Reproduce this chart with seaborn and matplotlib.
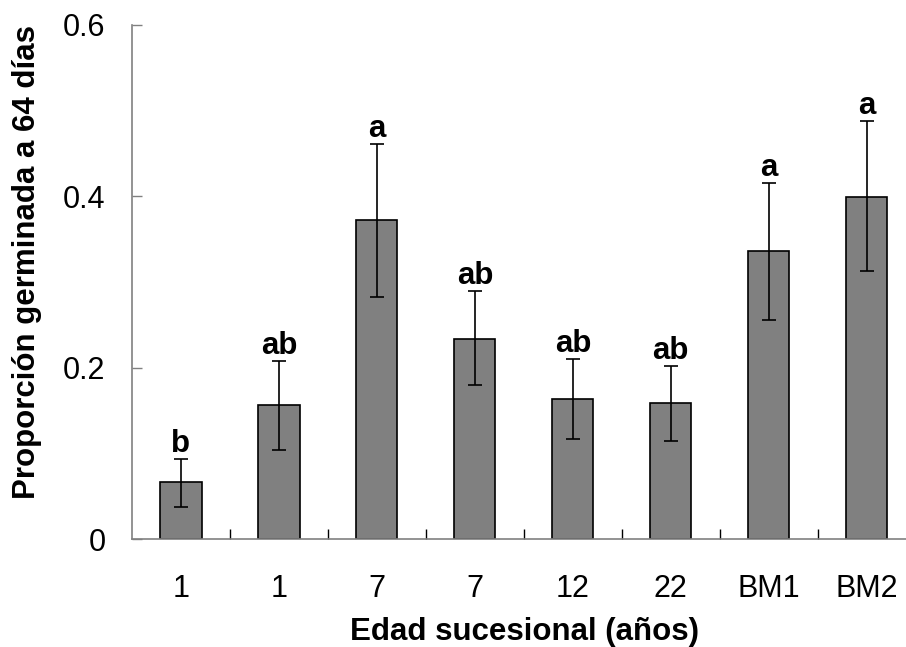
import matplotlib
matplotlib.use("Agg")
import matplotlib.pyplot as plt
import seaborn as sns
import pandas as pd
import numpy as np

# Data
categories = ["1", "1", "7", "7", "12", "22", "BM1", "BM2"]
values = [0.067, 0.156, 0.372, 0.234, 0.164, 0.159, 0.336, 0.399]
err_high = [0.094, 0.208, 0.461, 0.289, 0.210, 0.202, 0.415, 0.488]
err_low = [0.038, 0.104, 0.282, 0.180, 0.117, 0.115, 0.256, 0.313]
letters = ["b", "ab", "a", "ab", "ab", "ab", "a", "a"]
yticks = [0, 0.2, 0.4, 0.6]
ytick_labels = ["0", "0.2", "0.4", "0.6"]

sns.set_style("white")
plt.rcParams['font.family'] = ['Liberation Sans', 'DejaVu Sans']
plt.rcParams['text.color'] = 'black'
plt.rcParams['axes.labelcolor'] = 'black'
plt.rcParams['xtick.color'] = 'black'
plt.rcParams['ytick.color'] = 'black'

ids = [f"c{i}" for i in range(len(categories))]
df = pd.DataFrame({"id": ids, "value": values})

fig = plt.figure(figsize=(9.06, 6.47), dpi=100)
ax = fig.add_axes([132 / 906, (647 - 539.3) / 647, (915.7 - 132) / 906, (539.3 - 24.5) / 647])

sns.barplot(data=df, x="id", y="value", order=ids, color="#808080",
            width=0.42, edgecolor="black", linewidth=1.2, saturation=1,
            errorbar=None, ax=ax)

x = np.arange(len(categories))
vals = np.array(values)
yerr = np.vstack([vals - np.array(err_low), np.array(err_high) - vals])
ax.errorbar(x, vals, yerr=yerr, fmt="none", ecolor="black", elinewidth=1.2,
            capsize=4.8, capthick=1.2)

for xi, top, lab in zip(x, err_high, letters):
    ax.annotate(lab, (xi, top), xytext=(0, 5), textcoords="offset points",
                ha="center", va="baseline", fontsize=22.5, fontweight="bold",
                color="black")

ax.set_xlim(-0.5, len(categories) - 0.5)
ax.set_ylim(0, 0.6)
ax.set_yticks(yticks)
ax.set_yticklabels(ytick_labels)
ax.set_xticks(x)
ax.set_xticklabels(categories)
ax.set_xticks(np.arange(len(categories) - 1) + 0.5, minor=True)

ax.tick_params(axis="y", which="major", direction="in", length=7, width=1,
               color="#808080", labelcolor="black", labelsize=22, pad=19, left=True)
ax.tick_params(axis="x", which="major", length=0, labelsize=22, pad=25,
               labelcolor="black")
ax.tick_params(axis="x", which="minor", direction="in", length=7, width=1,
               color="black", bottom=True)

for s in ["top", "right"]:
    ax.spines[s].set_visible(False)
for s in ["left", "bottom"]:
    ax.spines[s].set_color("#808080")
    ax.spines[s].set_linewidth(1.2)

ax.set_xlabel("Edad sucesional (años)", fontsize=22.5, fontweight="bold", color="black")
ax.set_ylabel("Proporción germinada a 64 días", fontsize=22.5, fontweight="bold", color="black")
ax.xaxis.set_label_coords((525 - 132) / (915.7 - 132), -(617 - 539.3) / (539.3 - 24.5))
ax.yaxis.set_label_coords(-(132 - 42) / (915.7 - 132), (539.3 - 262) / (539.3 - 24.5))

fig.savefig("out.png", dpi=100)
